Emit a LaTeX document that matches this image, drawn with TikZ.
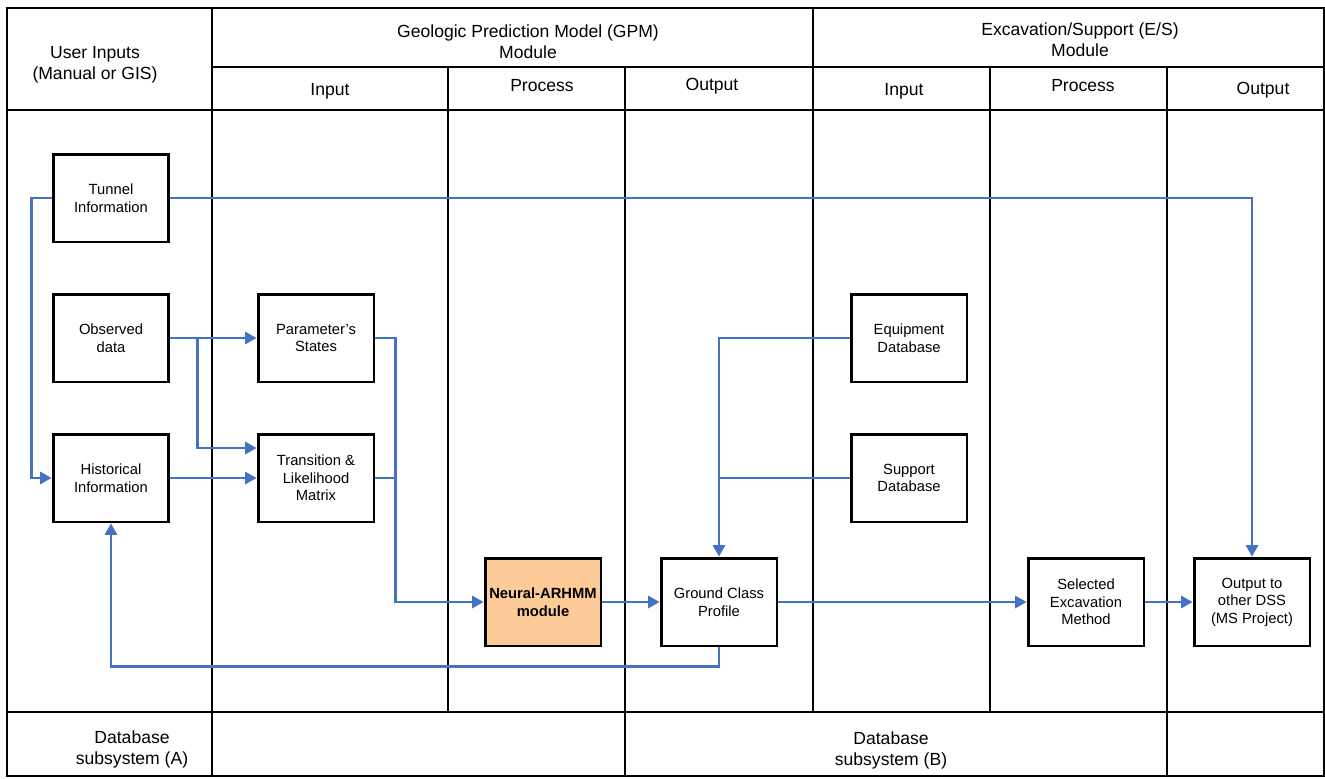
\documentclass[tikz,border=0pt]{standalone}
\usepackage{fontspec}
\setmainfont{Liberation Sans}
\usetikzlibrary{arrows.meta}
\definecolor{linkblue}{HTML}{4472C4}
\definecolor{procorange}{HTML}{FCCB98}
\tikzstyle{grid}=[draw=black, line width=1.1pt]
\tikzstyle{head}=[align=center, inner sep=0pt, font=\fontsize{10}{12}\selectfont]
\tikzstyle{block}=[rectangle, draw=black, line width=1.7pt, minimum width=2.32cm, minimum height=1.76cm, inner sep=1pt, align=center, font=\fontsize{8.4}{10}\selectfont]
\tikzstyle{link}=[draw=linkblue, line width=1.3pt]
\tikzstyle{flow}=[link, -{Triangle[length=6.5pt, width=7pt]}]

\begin{document}
\begin{tikzpicture}[x=0.02cm, y=-0.02cm]
    \useasboundingbox (0,0) rectangle (1325,778);

    \draw[grid] (7,8) rectangle (1324,776);
    \draw[grid] (212,67) -- (1324,67);
    \draw[grid] (7,110) -- (1324,110);
    \draw[grid] (7,712) -- (1324,712);
    \draw[grid] (212,8) -- (212,776);
    \draw[grid] (813,8) -- (813,712);
    \foreach \x in {448,990}
      \draw[grid] (\x,67) -- (\x,712);
    \foreach \x in {625,1167}
      \draw[grid] (\x,67) -- (\x,776);

    \node[head] (user) at (95,65) {User Inputs\\(Manual or GIS)};
    \node[head] (gpm) at (528,42) {Geologic Prediction Model (GPM)\\Module};
    \node[head] (es) at (1080,40) {Excavation/Support (E/S)\\Module};
    \node[head] (gpmin) at (330,91) {Input};
    \node[head] (gpmproc) at (542,86) {Process};
    \node[head] (gpmout) at (712,86) {Output};
    \node[head] (esin) at (904,91) {Input};
    \node[head] (esproc) at (1083,86) {Process};
    \node[head] (esout) at (1263,90) {Output};
    \node[head] (dba) at (132,749) {Database\\subsystem (A)};
    \node[head] (dbb) at (891,750) {Database\\subsystem (B)};

    \node[block] (tunnel) at (111,198) {Tunnel\\Information};
    \node[block] (observed) at (111,338) {Observed\\data};
    \node[block] (historical) at (111,478) {Historical\\Information};
    \node[block] (states) at (316,338) {Parameter's\\States};
    \node[block] (matrix) at (316,478) {Transition \&\\Likelihood\\Matrix};
    \node[block, fill=procorange, font=\fontsize{8.4}{10}\selectfont\bfseries] (arhmm) at (543,602) {Neural-ARHMM\\module};
    \node[block] (ground) at (719,602) {Ground Class\\Profile};
    \node[block] (equipment) at (909,338) {Equipment\\Database};
    \node[block] (support) at (909,478) {Support\\Database};
    \node[block] (method) at (1086,602) {Selected\\Excavation\\Method};
    \node[block] (dss) at (1252,602) {Output to\\other DSS\\(MS Project)};

    \draw[flow] (tunnel.west) -- ++(-20,0) |- (historical.west);
    \draw[flow] (tunnel.east) -| (dss.north);
    \draw[flow] (observed.east) -- (states.west);
    \draw[flow] (observed.east) ++(27,0) |- ([yshift=6mm]matrix.west);
    \draw[flow] (historical.east) -- (matrix.west);
    \draw[flow] (states.east) -- ++(20,0) |- (arhmm.west);
    \draw[link] (matrix.east) -- ++(20,0);
    \draw[flow] (arhmm.east) -- (ground.west);
    \draw[flow] (equipment.west) -| (ground.north);
    \draw[link] (support.west) -- (ground.north |- support.west);
    \draw[flow] (ground.east) -- (method.west);
    \draw[flow] (method.east) -- (dss.west);
    \draw[flow] (ground.south) -- ++(0,19) -| (historical.south);
\end{tikzpicture}
\end{document}
